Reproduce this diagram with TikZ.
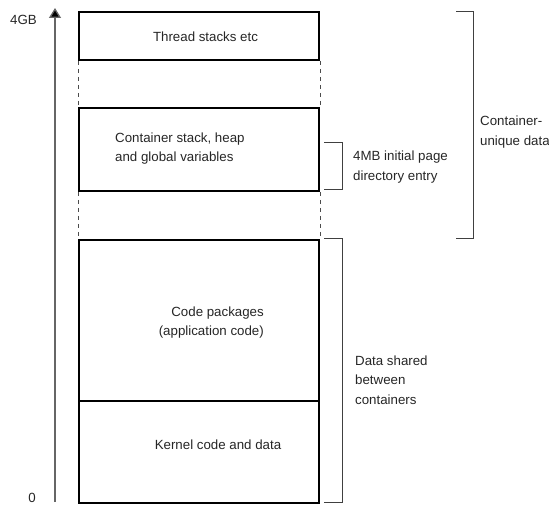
\documentclass[tikz,border=0pt]{standalone}
\usepackage{fontspec}
\setmainfont{Liberation Sans}
\usetikzlibrary{arrows.meta}
\begin{document}
\begin{tikzpicture}[x=1pt,y=-1pt,
  lbl/.style={font=\fontsize{13.3}{19.5}\selectfont, inner sep=0pt, text=black!85},
  memblock/.style={draw=black, line width=2pt, inner sep=0pt, minimum width=240pt, anchor=north west},
  gapline/.style={draw=black!70, line width=0.9pt, dash pattern=on 4pt off 4pt},
  brk/.style={draw=black!75, line width=1pt},
  axisline/.style={draw=black!60, line width=1.3pt, -{Triangle[length=10pt,width=12pt,fill=black]}},
]
\useasboundingbox (0,0) rectangle (549,505);

% memory blocks
\node[memblock, minimum height=48pt] (thr) at (78,11) {};
\node[memblock, minimum height=83pt] (cont) at (78,107) {};
\node[memblock, minimum height=161pt] (code) at (78,239) {};
\node[memblock, minimum height=102pt] (kern) at (78,400) {};

% dashed gaps
\draw[gapline] (thr.south west) -- (cont.north west);
\draw[gapline] (thr.south east) -- (cont.north east);
\draw[gapline] (cont.south west) -- (code.north west);
\draw[gapline] (cont.south east) -- (code.north east);

% axis
\coordinate (ax0) at (55,502);
\coordinate (ax1) at (55,8);
\draw[axisline] (ax0) -- (ax1);

% brackets
\coordinate (b1a) at (324,143);
\coordinate (b1b) at (342,143);
\coordinate (b1c) at (342,190);
\coordinate (b1d) at (324,190);
\draw[brk] (b1a) -- (b1b) -- (b1c) -- (b1d);

\coordinate (b2a) at (324,239);
\coordinate (b2b) at (342,239);
\coordinate (b2c) at (342,502);
\coordinate (b2d) at (324,502);
\draw[brk] (b2a) -- (b2b) -- (b2c) -- (b2d);

\coordinate (b3a) at (456,12);
\coordinate (b3b) at (473,12);
\coordinate (b3c) at (473,239);
\coordinate (b3d) at (456,239);
\draw[brk] (b3a) -- (b3b) -- (b3c) -- (b3d);

% labels
\node[lbl] (l4gb) at (23.5,20) {4GB};
\node[lbl] (l0) at (32,498) {0};
\node[lbl] (tthr) at (205.5,37) {Thread stacks etc};
\node[lbl, align=left, anchor=west] (tcont) at (115,148.5) {Container stack, heap\\and global variables};
\node[lbl, align=right, anchor=east] (tcode) at (264,322.5) {Code packages\\(application code)};
\node[lbl] (tkern) at (218,445) {Kernel code and data};
\node[lbl, align=left, anchor=west] (t4mb) at (353,167) {4MB initial page\\directory entry};
\node[lbl, align=left, anchor=west] (tuniq) at (480,132) {Container-\\unique data};
\node[lbl, align=left, anchor=west] (tshared) at (355,380) {Data shared\\between\\containers};
\end{tikzpicture}
\end{document}
